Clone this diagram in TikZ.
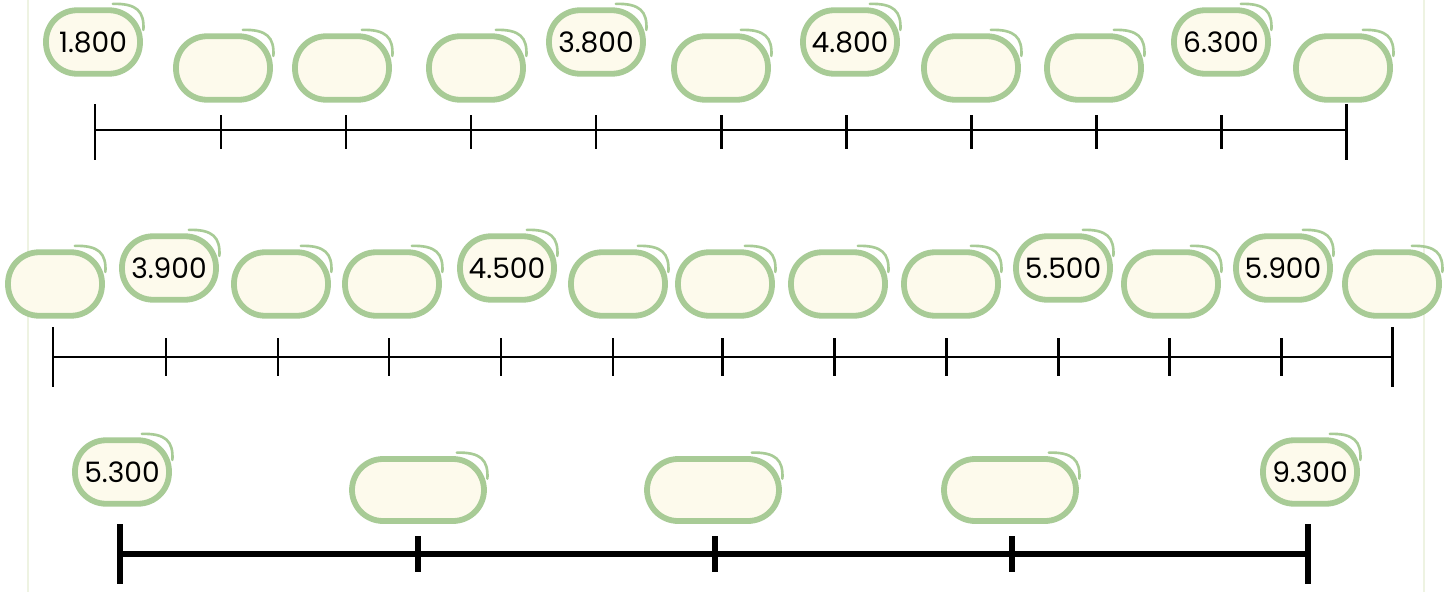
\documentclass[tikz,border=0pt]{standalone}
\usepackage{fontspec}
\setmainfont{Poppins}
\definecolor{ovalgreen}{HTML}{A8CB96}
\definecolor{ovalfill}{HTML}{FDFAEC}
\definecolor{framegreen}{HTML}{EEF3E2}
\tikzset{
  oval/.style={draw=ovalgreen, line width=3.3pt, fill=ovalfill, rounded corners=0.62cm,
    minimum width=1.88cm, minimum height=1.27cm, inner sep=0pt, font=\fontsize{16}{16}\selectfont},
  wideoval/.style={oval, minimum width=2.64cm, minimum height=1.24cm},
  flick/.style={draw=ovalgreen, line width=1.5pt, line cap=round},
  axisA/.style={line width=1.7pt, black},
  axisB/.style={line width=2.9pt, black},
  framel/.style={draw=framegreen, line width=1.6pt}
}
\newcommand{\myflick}[1]{\draw[flick] ([xshift=-0.6cm,yshift=0.07cm]#1.north east) .. controls ([xshift=-0.12cm,yshift=0.08cm]#1.north east) and ([xshift=0.03cm,yshift=-0.08cm]#1.north east) .. ([xshift=0.01cm,yshift=-0.45cm]#1.north east);}
\begin{document}
\begin{tikzpicture}[x=0.02cm,y=-0.02cm]
\useasboundingbox (0,0) rectangle (1451,592);
% frame lines
\coordinate (fl1) at (28,0); \coordinate (fl2) at (28,592);
\coordinate (fr1) at (1424,0); \coordinate (fr2) at (1424,592);
\draw[framel] (fl1) -- (fl2);
\draw[framel] (fr1) -- (fr2);

% ---------- Row 1 ----------
\coordinate (a0) at (95,130); \coordinate (a10) at (1346,130);
\draw[axisA] (a0) -- (a10);
\foreach \i/\x in {0/95,1/221,2/346,3/471,4/596,5/721,6/846,7/971,8/1096,9/1221,10/1346}{
  \coordinate (t1\i) at (\x,130);
}
\foreach \i in {1,...,9}{ \draw[axisA] ([yshift=0.3cm]t1\i) -- ([yshift=-0.38cm]t1\i); }
\draw[axisA] ([yshift=0.52cm]t10) -- ([yshift=-0.6cm]t10);
\draw[axisA] ([yshift=0.52cm]t110) -- ([yshift=-0.6cm]t110);
\foreach \i/\x/\y/\t in {0/93/42/1.800,1/223/68/,2/342/68/,3/476/68/,4/596/42/3.800,5/721/68/,6/850/42/4.800,7/971/68/,8/1094/68/,9/1221/42/6.300,10/1343/68/}{
  \node[oval] (o1\i) at (\x,\y) {\t};
  \myflick{o1\i}
}

% ---------- Row 2 ----------
\coordinate (b0) at (53,357); \coordinate (b12) at (1392,357);
\draw[axisA] (b0) -- (b12);
\foreach \i/\x in {0/53,1/166,2/278,3/389,4/501,5/613,6/722,7/834,8/946,9/1058,10/1169,11/1281,12/1392}{
  \coordinate (t2\i) at (\x,357);
}
\foreach \i in {1,...,11}{ \draw[axisA] ([yshift=0.38cm]t2\i) -- ([yshift=-0.38cm]t2\i); }
\draw[axisA] ([yshift=0.6cm]t20) -- ([yshift=-0.6cm]t20);
\draw[axisA] ([yshift=0.6cm]t212) -- ([yshift=-0.6cm]t212);
\foreach \i/\x/\y/\t in {0/55/284/,1/169/268/3.900,2/281/284/,3/392/284/,4/507/268/4.500,5/618/284/,6/725/284/,7/838/284/,8/951/284/,9/1063/268/5.500,10/1171/284/,11/1283/268/5.900,12/1392/284/}{
  \node[oval] (o2\i) at (\x,\y) {\t};
  \myflick{o2\i}
}

% ---------- Row 3 ----------
\coordinate (c0) at (120,554); \coordinate (c4) at (1308,554);
\draw[axisB] (c0) -- (c4);
\foreach \i/\x in {0/120,1/418,2/715,3/1012,4/1308}{
  \coordinate (t3\i) at (\x,554);
}
\foreach \i in {1,2,3}{ \draw[axisB] ([yshift=0.36cm]t3\i) -- ([yshift=-0.36cm]t3\i); }
\draw[axisB] ([yshift=0.6cm]t30) -- ([yshift=-0.6cm]t30);
\draw[axisB] ([yshift=0.6cm]t34) -- ([yshift=-0.6cm]t34);
\node[oval] (o30) at (122,472) {5.300}; \myflick{o30}
\node[wideoval] (o31) at (418,490) {}; \myflick{o31}
\node[wideoval] (o32) at (713,490) {}; \myflick{o32}
\node[wideoval] (o33) at (1010,490) {}; \myflick{o33}
\node[oval] (o34) at (1310,472) {9.300}; \myflick{o34}
\end{tikzpicture}
\end{document}
